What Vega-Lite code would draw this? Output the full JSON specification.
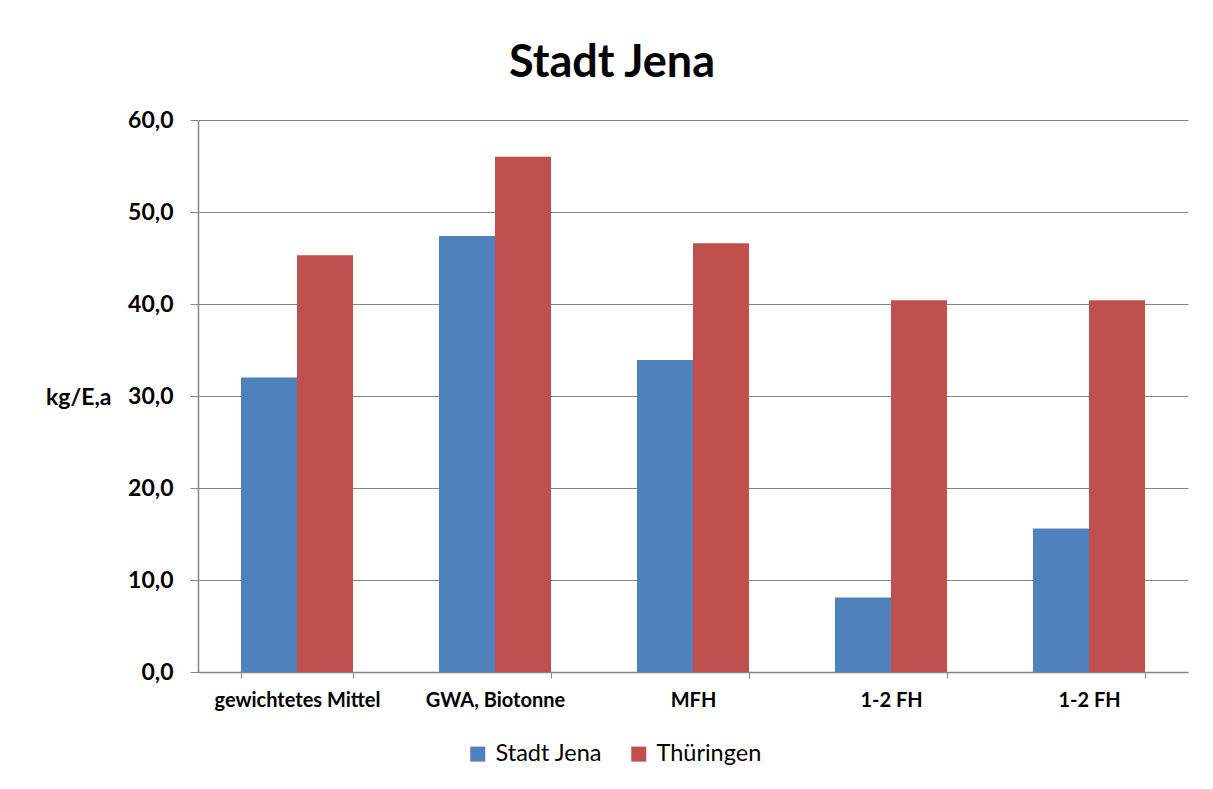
{
  "$schema": "https://vega.github.io/schema/vega-lite/v6.json",
  "autosize": "none",
  "width": 990,
  "height": 552,
  "padding": {"left": 198, "top": 120, "right": 25, "bottom": 117},
  "background": "white",
  "title": {
    "text": "Stadt Jena",
    "font": "Lato",
    "fontSize": 45,
    "fontWeight": "bold",
    "color": "black",
    "anchor": "middle",
    "dx": -81,
    "offset": 23
  },
  "data": {
    "values": [
      {"Kategorie": "gewichtetes Mittel", "Reihe": "Stadt Jena", "Wert": 32.0},
      {"Kategorie": "gewichtetes Mittel", "Reihe": "Thüringen", "Wert": 45.3},
      {"Kategorie": "GWA, Biotonne", "Reihe": "Stadt Jena", "Wert": 47.4},
      {"Kategorie": "GWA, Biotonne", "Reihe": "Thüringen", "Wert": 56.0},
      {"Kategorie": "MFH", "Reihe": "Stadt Jena", "Wert": 33.9},
      {"Kategorie": "MFH", "Reihe": "Thüringen", "Wert": 46.6},
      {"Kategorie": "1-2 FH", "Reihe": "Stadt Jena", "Wert": 8.1},
      {"Kategorie": "1-2 FH", "Reihe": "Thüringen", "Wert": 40.4},
      {"Kategorie": "1-2 FH ", "Reihe": "Stadt Jena", "Wert": 15.6},
      {"Kategorie": "1-2 FH ", "Reihe": "Thüringen", "Wert": 40.4}
    ]
  },
  "mark": {"type": "bar"},
  "encoding": {
    "x": {
      "field": "Kategorie",
      "type": "nominal",
      "sort": null,
      "scale": {"paddingInner": 0.434, "paddingOuter": 0.217},
      "axis": {
        "title": null,
        "labelAngle": 0,
        "labelFont": "Lato",
        "labelFontSize": 20,
        "labelFontWeight": "bold",
        "labelColor": "black",
        "labelPadding": 12,
        "tickBand": "extent",
        "tickSize": 6,
        "tickColor": "#868686",
        "domainColor": "#868686",
        "domainWidth": 1.5,
        "grid": false
      }
    },
    "xOffset": {
      "field": "Reihe",
      "type": "nominal",
      "sort": ["Stadt Jena", "Thüringen"],
      "scale": {"paddingInner": 0, "paddingOuter": 0}
    },
    "y": {
      "field": "Wert",
      "type": "quantitative",
      "scale": {"domain": [0, 60], "nice": false},
      "axis": {
        "values": [0, 10, 20, 30, 40, 50, 60],
        "labelExpr": "replace(format(datum.value, '.1f'), '.', ',')",
        "labelFont": "Lato",
        "labelFontSize": 23,
        "labelFontWeight": "bold",
        "labelColor": "black",
        "labelPadding": 17,
        "tickSize": 8,
        "tickColor": "#868686",
        "domainColor": "#868686",
        "domainWidth": 1.5,
        "grid": true,
        "gridColor": "#868686",
        "gridWidth": 1.2,
        "title": "kg/E,a",
        "titleFont": "Lato",
        "titleFontSize": 23,
        "titleFontWeight": "bold",
        "titleColor": "black",
        "titleAngle": 0,
        "titleAlign": "right",
        "titleBaseline": "middle",
        "titleX": -87,
        "titleY": 277
      }
    },
    "color": {
      "field": "Reihe",
      "type": "nominal",
      "sort": ["Stadt Jena", "Thüringen"],
      "scale": {"domain": ["Stadt Jena", "Thüringen"], "range": ["#4F81BD", "#C0504D"]},
      "legend": {
        "title": null,
        "orient": "none",
        "direction": "horizontal",
        "legendX": 268,
        "legendY": 622,
        "symbolType": "square",
        "symbolSize": 225,
        "symbolStrokeWidth": 0,
        "symbolOpacity": 1,
        "labelFont": "Lato",
        "labelFontSize": 23.5,
        "labelColor": "black",
        "labelOffset": 6,
        "columnPadding": 24,
        "padding": 0
      }
    }
  },
  "config": {
    "view": {"stroke": null}
  }
}
